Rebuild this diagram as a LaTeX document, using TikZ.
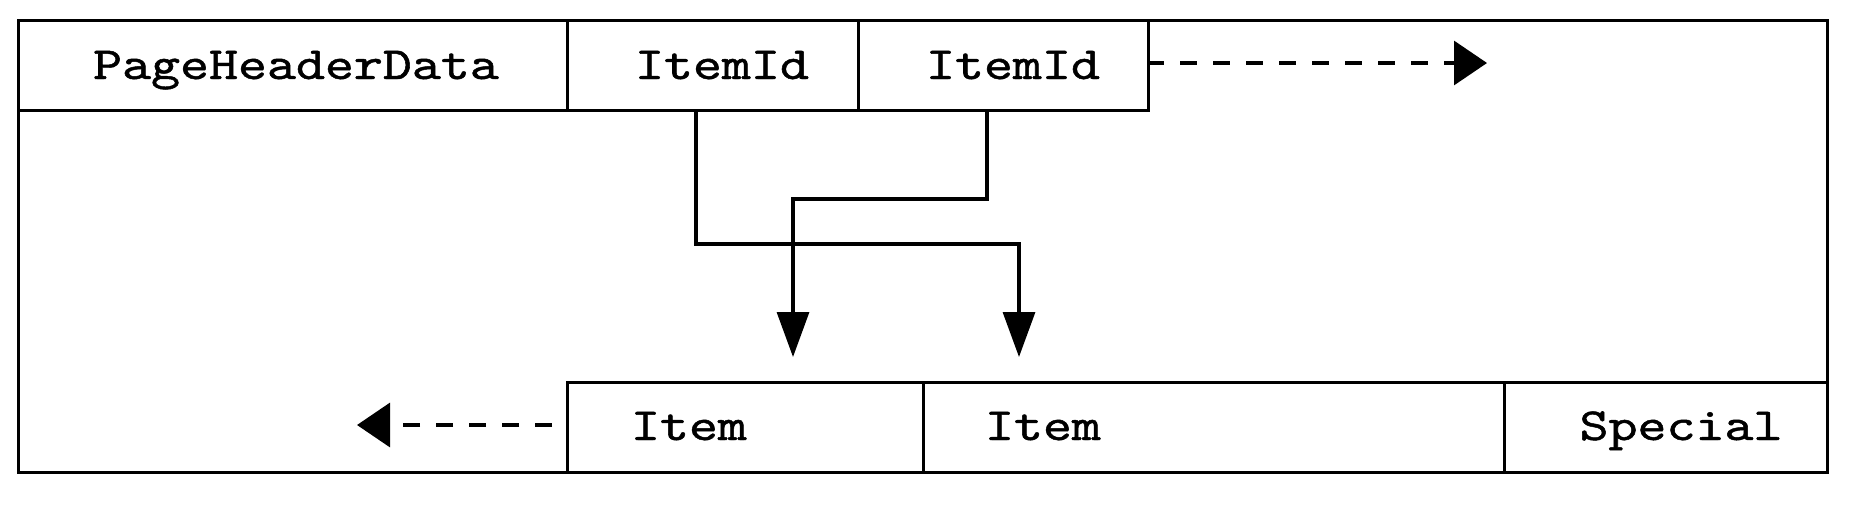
\documentclass[tikz,border=0pt]{standalone}
\usepackage{fontspec}
\usepackage{graphicx}
\usetikzlibrary{arrows.meta}
\newfontfamily\boldmono{lmmono10-regular.otf}[FakeBold=1.0]
\newcommand\tlab[1]{\scalebox{1.2}[1]{#1}}
\tikzset{
  lw/.style={line width=3.2pt},
  cell/.style={draw, lw, rectangle, inner sep=0pt, anchor=north west, minimum height=90pt},
  lbl/.style={anchor=base, inner sep=0pt, font=\fontsize{46}{46}\selectfont\boldmono},
  conn/.style={lw, -{Triangle[length=45pt,width=32pt]}},
  dasharrow/.style={lw, dash pattern=on 17pt off 16pt, -{Triangle[length=33pt,width=44pt]}},
}
\begin{document}
\begin{tikzpicture}[x=1pt,y=-1pt]
\useasboundingbox (0,0) rectangle (1854,504);
% outer page
\node[cell, minimum width=1809pt, minimum height=452pt] (page) at (17,19) {};
% header row
\node[cell, minimum width=549pt] (phd) at (17,19) {};
\node[cell, minimum width=291pt] (id1) at (566,19) {};
\node[cell, minimum width=290pt] (id2) at (857,19) {};
% bottom row
\node[cell, minimum width=356pt] (it1) at (566,381) {};
\node[cell, minimum width=581pt] (it2) at (922,381) {};
\node[cell, minimum width=323pt] (sp) at (1503,381) {};
% labels
\node[lbl] (lphd) at (296,79) {\tlab{PageHeaderData}};
\node[lbl] (lid1) at (722,79) {\tlab{ItemId}};
\node[lbl] (lid2) at (1013,79) {\tlab{ItemId}};
\node[lbl] (lit1) at (689,440) {\tlab{Item}};
\node[lbl] (lit2) at (1043,440) {\tlab{Item}};
\node[lbl] (lsp) at (1681,440) {\tlab{Special}};
% connector points
\coordinate (s1) at (696,109);
\coordinate (b1) at (696,244);
\coordinate (c1) at (1019,244);
\coordinate (t1) at (1019,357);
\coordinate (s2) at (987,109);
\coordinate (b2) at (987,199);
\coordinate (c2) at (793,199);
\coordinate (t2) at (793,357);
\coordinate (rs) at (1147,63);
\coordinate (rt) at (1487,63);
\coordinate (ls) at (566,425);
\coordinate (lt) at (357,425);
% connectors
\draw[conn] (s1) -- (b1) -- (c1) -- (t1);
\draw[conn] (s2) -- (b2) -- (c2) -- (t2);
\draw[dasharrow] (rs) -- (rt);
\draw[dasharrow, dash phase=19pt] (ls) -- (lt);
\end{tikzpicture}
\end{document}
